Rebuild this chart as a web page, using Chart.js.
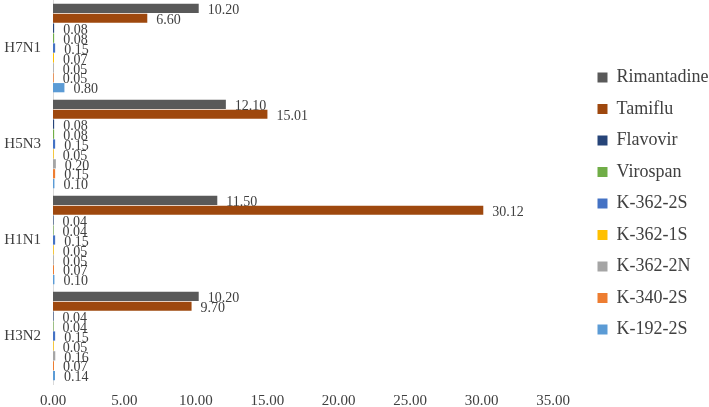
<!DOCTYPE html>
<html>
<head>
<meta charset="utf-8">
<script src="https://cdn.jsdelivr.net/npm/chart.js@4"></script>
<style>
html,body{margin:0;padding:0;background:#fff;}
#wrap{width:709px;height:407px;position:relative;}
</style>
</head>
<body>
<div id="wrap"><canvas id="c" width="709" height="407"></canvas></div>
<script>
const categories = ['H7N1', 'H5N3', 'H1N1', 'H3N2'];
const seriesNames = ['Rimantadine', 'Tamiflu', 'Flavovir', 'Virospan', 'K-362-2S', 'K-362-1S', 'K-362-2N', 'K-340-2S', 'K-192-2S'];
const rimantadine = [10.20, 12.10, 11.50, 10.20];
const tamiflu     = [6.60, 15.01, 30.12, 9.70];
const flavovir    = [0.08, 0.08, 0.04, 0.04];
const virospan    = [0.08, 0.08, 0.04, 0.04];
const k362_2S     = [0.15, 0.15, 0.15, 0.15];
const k362_1S     = [0.07, 0.05, 0.05, 0.05];
const k362_2N     = [0.05, 0.20, 0.05, 0.16];
const k340_2S     = [0.05, 0.15, 0.07, 0.07];
const k192_2S     = [0.80, 0.10, 0.10, 0.14];
const xTicks = [0, 5, 10, 15, 20, 25, 30, 35];

const seriesValues = [rimantadine, tamiflu, flavovir, virospan, k362_2S, k362_1S, k362_2N, k340_2S, k192_2S];
const colors = ['#595959', '#9E480E', '#264478', '#70AD47', '#4472C4', '#FFC000', '#A5A5A5', '#ED7D31', '#5B9BD5'];

const FONT = '"Liberation Serif", "Times New Roman", serif';
const TEXT = '#404040';

const labelPlugin = {
  id: 'barValueLabels',
  afterDatasetsDraw(chart) {
    const ctx = chart.ctx;
    ctx.save();
    ctx.font = '14px ' + FONT;
    ctx.fillStyle = TEXT;
    ctx.textAlign = 'left';
    ctx.textBaseline = 'middle';
    chart.data.datasets.forEach((ds, di) => {
      const meta = chart.getDatasetMeta(di);
      if (meta.hidden) return;
      meta.data.forEach((el, i) => {
        ctx.fillText(Number(ds.data[i]).toFixed(2), el.x + 9, el.y + 2);
      });
    });
    ctx.restore();
  }
};

new Chart(document.getElementById('c'), {
  type: 'bar',
  data: {
    labels: categories,
    datasets: seriesNames.map((n, i) => ({
      label: n,
      data: seriesValues[i],
      backgroundColor: colors[i],
      borderWidth: 0,
      barPercentage: 0.93,
      categoryPercentage: 0.93
    }))
  },
  options: {
    indexAxis: 'y',
    responsive: false,
    animation: false,
    devicePixelRatio: 1,
    layout: { padding: { left: 0, right: 0, top: 0, bottom: 0 } },
    scales: {
      x: {
        min: 0, max: 37.17,
        afterBuildTicks(axis) { axis.ticks = xTicks.map(v => ({ value: v })); },
        afterFit(axis) { axis.height = 23; },
        grid: { display: false, drawTicks: false },
        border: { display: false },
        ticks: {
          font: { family: FONT, size: 15 },
          color: TEXT,
          padding: 8,
          maxRotation: 0,
          autoSkip: false,
          callback: v => Number(v).toFixed(2)
        }
      },
      y: {
        afterFit(axis) { axis.width = 53; axis.paddingTop = 0; axis.paddingBottom = 0; },
        grid: { display: false, drawTicks: false },
        border: { display: true, color: '#d9d9d9', width: 1 },
        ticks: {
          font: { family: FONT, size: 15 },
          color: TEXT,
          padding: 12
        }
      }
    },
    plugins: {
      legend: {
        position: 'right',
        align: 'center',
        maxWidth: 125,
        labels: {
          font: { family: FONT, size: 18 },
          color: TEXT,
          boxWidth: 10,
          boxHeight: 10,
          padding: 13.5
        }
      },
      tooltip: { enabled: false }
    }
  },
  plugins: [labelPlugin]
});
</script>
</body>
</html>
